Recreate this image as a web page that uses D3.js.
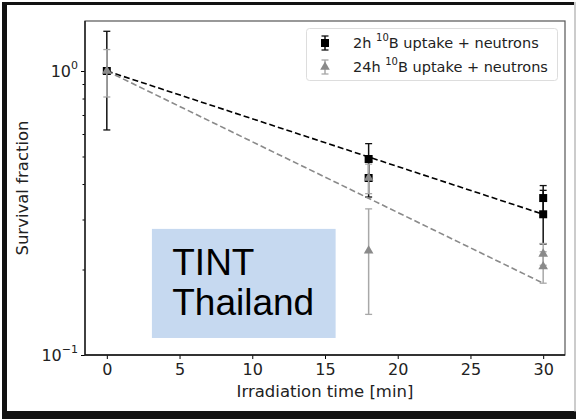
<!DOCTYPE html>
<html>
<head>
<meta charset="utf-8">
<script src="https://cdn.jsdelivr.net/npm/d3@7"></script>
<style>
  body { margin: 0; background: #fff; }
  svg { display: block; }
  text { font-family: "DejaVu Sans", sans-serif; fill: #222; }
</style>
</head>
<body>
<svg id="chart" width="576" height="419"></svg>
<script>

// data
var timeX = [0, 18, 18, 30, 30];
var surv2h = [1.0, 0.49, 0.42, 0.357, 0.313];
var err2h = [0.38, 0.065, 0.06, 0.038, 0.067];
var surv24h = [1.0, 0.42, 0.233, 0.227, 0.205];
var err24h = [0.19, 0.05, 0.094, 0.02, 0.026];
var fitX = [0, 30];
var fit2h = [1.0, 0.313];
var fit24h = [1.0, 0.179];
var xTicks = [0, 5, 10, 15, 20, 25, 30];
var yMinorTicks = [0.2, 0.3, 0.4, 0.5, 0.6, 0.7, 0.8, 0.9];
var legendLabels = ["2h", "24h"];

var svg = d3.select("#chart"),
  margin = {top: 21, right: 11, bottom: 64, left: 85},
  width = 576 - margin.left - margin.right,
  height = 419 - margin.top - margin.bottom;

// outer frame
svg.append("rect").attr("x", 2).attr("y", 2).attr("width", 572).attr("height", 3).attr("fill", "#111");
svg.append("rect").attr("x", 2).attr("y", 2).attr("width", 5).attr("height", 417).attr("fill", "#111");
svg.append("rect").attr("x", 2).attr("y", 411).attr("width", 574).attr("height", 8).attr("fill", "#111");
svg.append("rect").attr("x", 574.5).attr("y", 2).attr("width", 1).attr("height", 410).attr("fill", "#999");

var x = d3.scaleLinear().domain([-1.5, 31.5]).range([0, width]);
var y = d3.scaleLog().domain([0.1, 1.5]).range([height, 0]);

var g = svg.append("g").attr("transform", "translate(" + margin.left + "," + margin.top + ")");

// label box
g.append("rect")
  .attr("x", x(3.1)).attr("y", y(0.278))
  .attr("width", x(15.73) - x(3.1)).attr("height", y(0.1148) - y(0.278))
  .attr("fill", "#c6d9f0");
g.append("text").attr("x", x(4.5)).attr("y", y(0.1915)).text("TINT")
  .style("font-family", "'Liberation Sans', Arial, sans-serif").style("font-size", "37px").style("fill", "#000");
g.append("text").attr("x", x(4.5)).attr("y", y(0.138)).text("Thailand")
  .style("font-family", "'Liberation Sans', Arial, sans-serif").style("font-size", "37px").style("fill", "#000");

// axes
var xAxis = g.append("g").attr("transform", "translate(0," + height + ")")
  .call(d3.axisBottom(x).tickValues(xTicks).tickSize(4).tickPadding(5).tickFormat(d3.format("d")));
xAxis.select(".domain").remove();
xAxis.selectAll("text").style("font-size", "16px").style("font-family", "DejaVu Sans").style("fill", "#222");

var yAxis = g.append("g")
  .call(d3.axisLeft(y).tickValues(yMinorTicks).tickSize(2.5).tickFormat(""));
yAxis.select(".domain").remove();
var yMajor = g.append("g")
  .call(d3.axisLeft(y).tickValues([0.1, 1]).tickSize(4).tickFormat(""));
yMajor.select(".domain").remove();

[[1, "0"], [0.1, "\u22121"]].forEach(function(t) {
  var lab = g.append("text").attr("x", -7).attr("y", y(t[0]) + 6)
    .attr("text-anchor", "end").style("font-size", "16px");
  lab.append("tspan").text("10");
  lab.append("tspan").attr("dy", -8).style("font-size", "11px").text(t[1]);
});

// spines
g.append("rect").attr("x", 0).attr("y", 0).attr("width", width).attr("height", height)
  .attr("fill", "none").attr("stroke", "#555").attr("stroke-width", 1.2);
g.append("line").attr("x1", 0).attr("x2", 0).attr("y1", 0).attr("y2", height).attr("stroke", "#111").attr("stroke-width", 1.3);
g.append("line").attr("x1", 0).attr("x2", width).attr("y1", height).attr("y2", height).attr("stroke", "#111").attr("stroke-width", 1.3);

svg.append("text").attr("transform", "translate(28," + (margin.top + height / 2) + ") rotate(-90)")
  .attr("text-anchor", "middle").style("font-size", "16.5px").text("Survival fraction");
svg.append("text").attr("x", margin.left + width / 2).attr("y", 397)
  .attr("text-anchor", "middle").style("font-size", "16.5px").text("Irradiation time [min]");

var line = d3.line().x(function(d) { return x(d[0]); }).y(function(d) { return y(d[1]); });

function drawSeries(vals, errs, fit, color, barColor, shape) {
  g.append("path").datum(d3.zip(fitX, fit)).attr("d", line)
    .attr("fill", "none").attr("stroke", color).attr("stroke-width", 1.6).attr("stroke-dasharray", "6,3");
  var pts = timeX.map(function(t, i) { return {x: t, v: vals[i], e: errs[i]}; });
  var eb = g.append("g").selectAll("g").data(pts).enter().append("g");
  eb.append("line").attr("x1", function(d) { return x(d.x); }).attr("x2", function(d) { return x(d.x); })
    .attr("y1", function(d) { return y(d.v + d.e); }).attr("y2", function(d) { return y(d.v - d.e); })
    .attr("stroke", barColor).attr("stroke-width", 1.5);
  [1, -1].forEach(function(s) {
    eb.append("line").attr("x1", function(d) { return x(d.x) - 3.5; }).attr("x2", function(d) { return x(d.x) + 3.5; })
      .attr("y1", function(d) { return y(d.v + s * d.e); }).attr("y2", function(d) { return y(d.v + s * d.e); })
      .attr("stroke", barColor).attr("stroke-width", 1.3);
  });
  g.append("g").selectAll("path").data(pts).enter().append("path")
    .attr("transform", function(d) { return "translate(" + x(d.x) + "," + y(d.v) + ")"; })
    .attr("d", d3.symbol().type(shape).size(shape === d3.symbolSquare ? 64 : 40))
    .attr("fill", color);
}

drawSeries(surv2h, err2h, fit2h, "#000", "#111", d3.symbolSquare);
drawSeries(surv24h, err24h, fit24h, "#8a8a8a", "#a8a8a8", d3.symbolTriangle);

// legend
var leg = svg.append("g");
leg.append("rect").attr("x", 306.5).attr("y", 28.5).attr("width", 251).attr("height", 52).attr("rx", 3)
  .attr("fill", "#fff").attr("stroke", "#ddd");
legendLabels.forEach(function(lbl, i) {
  var cy = 43 + i * 24;
  var col = i === 0 ? "#000" : "#8a8a8a";
  var bcol = i === 0 ? "#111" : "#a8a8a8";
  leg.append("line").attr("x1", 325).attr("x2", 325).attr("y1", cy - 7).attr("y2", cy + 7).attr("stroke", bcol).attr("stroke-width", 1.5);
  [-7, 7].forEach(function(o) {
    leg.append("line").attr("x1", 321.5).attr("x2", 328.5).attr("y1", cy + o).attr("y2", cy + o).attr("stroke", bcol).attr("stroke-width", 1.3);
  });
  leg.append("path").attr("transform", "translate(325," + cy + ")")
    .attr("d", d3.symbol().type(i === 0 ? d3.symbolSquare : d3.symbolTriangle).size(i === 0 ? 64 : 40)).attr("fill", col);
  var t = leg.append("text").attr("x", 353).attr("y", cy + 5).style("font-size", "14.5px");
  t.append("tspan").text(lbl + " ");
  t.append("tspan").attr("dy", -7).style("font-size", "10px").text("10");
  t.append("tspan").attr("dy", 7).text("B uptake + neutrons");
});

</script>
</body>
</html>
